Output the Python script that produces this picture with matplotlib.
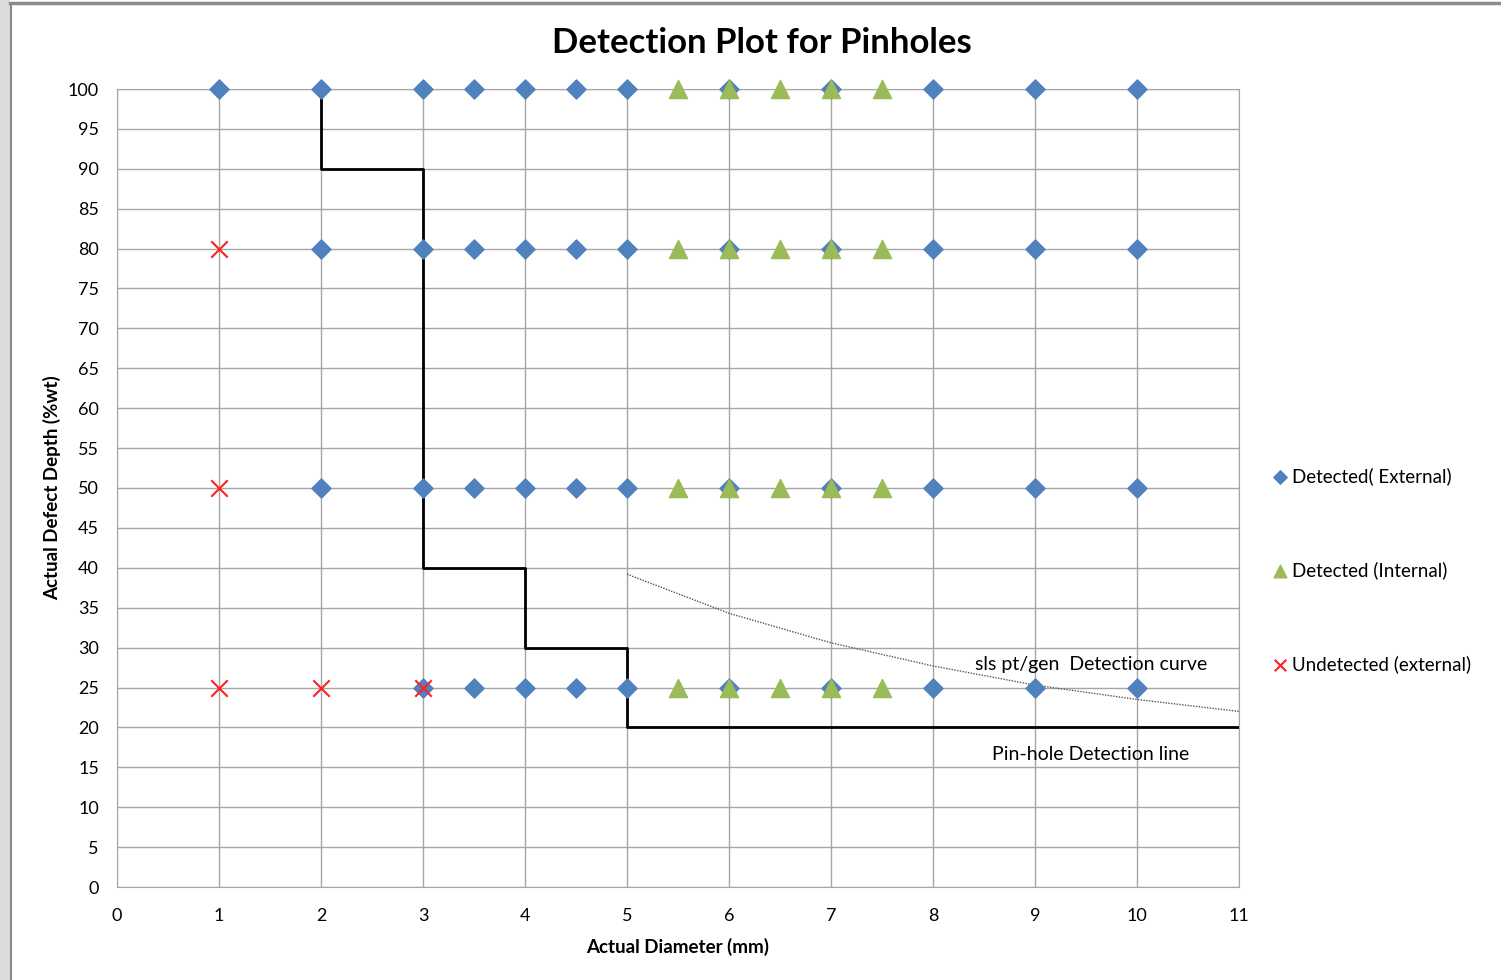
import matplotlib
matplotlib.use("Agg")
import matplotlib.pyplot as plt
from matplotlib.patches import Rectangle
from matplotlib.lines import Line2D

plt.rcParams['font.family'] = ['Lato', 'DejaVu Sans']

# Detected (External) points
ext_x = [1, 2, 3, 3.5, 4, 4.5, 5, 6, 7, 8, 9, 10,
         2, 3, 3.5, 4, 4.5, 5, 6, 7, 8, 9, 10,
         2, 3, 3.5, 4, 4.5, 5, 6, 7, 8, 9, 10,
         3, 3.5, 4, 4.5, 5, 6, 7, 8, 9, 10]
ext_y = [100] * 12 + [80] * 11 + [50] * 11 + [25] * 10

# Detected (Internal) points
int_x = [5.5, 6, 6.5, 7, 7.5] * 4
int_y = [100] * 5 + [80] * 5 + [50] * 5 + [25] * 5

# Undetected (external)
und_x = [1, 1, 1, 2, 3]
und_y = [80, 50, 25, 25, 25]

# pin-hole detection line (step)
step_x = [2, 2, 3, 3, 4, 4, 5, 5, 11]
step_y = [100, 90, 90, 40, 40, 30, 30, 20, 20]

# sls pt/gen detection curve
curve_x = [5, 6, 7, 8, 9, 10, 11]
curve_y = [39.2, 34.3, 30.6, 27.7, 25.3, 23.5, 22.0]

fig = plt.figure(figsize=(15.01, 9.8), dpi=100)
W, H = 1501, 980
ax = fig.add_axes([117 / W, 1 - 887 / H, (1239 - 117) / W, (887 - 89) / H])

# window frame
fig.add_artist(Rectangle((0, 0), 10 / W, 1, transform=fig.transFigure,
                         facecolor='#dcdcdc', edgecolor='none'))
fig.add_artist(Line2D([10.5 / W, 10.5 / W], [0, 1 - 3 / H], transform=fig.transFigure,
                      color='#8a8a8a', lw=1.5))
fig.add_artist(Line2D([10 / W, 1], [1 - 3.5 / H, 1 - 3.5 / H], transform=fig.transFigure,
                      color='#8a8a8a', lw=2.5))

ax.set_xlim(0, 11)
ax.set_ylim(0, 100)
ax.set_xticks(range(0, 12))
ax.set_yticks(range(0, 101, 5))
ax.grid(True, color='#a6a6a6', lw=1)
ax.set_axisbelow(True)
for s in ax.spines.values():
    s.set_color('#a6a6a6')
ax.tick_params(length=0, labelsize=13)
ax.tick_params(axis='x', pad=15)
ax.tick_params(axis='y', pad=13)

ax.plot(step_x, step_y, color='black', lw=2, zorder=3)
ax.plot(curve_x, curve_y, color='#555555', lw=1, ls=(0, (1, 1)), zorder=3)

h1 = ax.scatter(ext_x, ext_y, marker='D', s=95, color='#4f81bd', zorder=4,
                clip_on=False, label='Detected( External)')
h2 = ax.scatter(int_x, int_y, marker='^', s=170, color='#9bbb59', zorder=5,
                clip_on=False, label='Detected (Internal)')
h3 = ax.scatter(und_x, und_y, marker='x', s=140, color='#ff2020', lw=1.5, zorder=6,
                clip_on=False, label='Undetected (external)')

ax.text(9.55, 27.9, 'sls pt/gen  Detection curve', fontsize=14, ha='center', va='center')
ax.text(9.55, 16.6, 'Pin-hole Detection line', fontsize=14, ha='center', va='center')

fig.suptitle('Detection Plot for Pinholes', x=762 / W, y=1 - 43 / H, va='center',
             fontsize=25, fontweight='bold')
ax.set_xlabel('Actual Diameter (mm)', fontsize=13.5, fontweight='bold', labelpad=10)
ax.set_ylabel('Actual Defect Depth (%wt)', fontsize=13.5, fontweight='bold', labelpad=5)

leg = fig.legend(handles=[h1, h2, h3], loc='center left',
                 bbox_to_anchor=(1252 / W, 1 - 570 / H), frameon=False,
                 fontsize=13.5, labelspacing=4.05, handletextpad=0.05,
                 markerscale=0.7, handlelength=1.2)

fig.savefig('out.png', dpi=100)
